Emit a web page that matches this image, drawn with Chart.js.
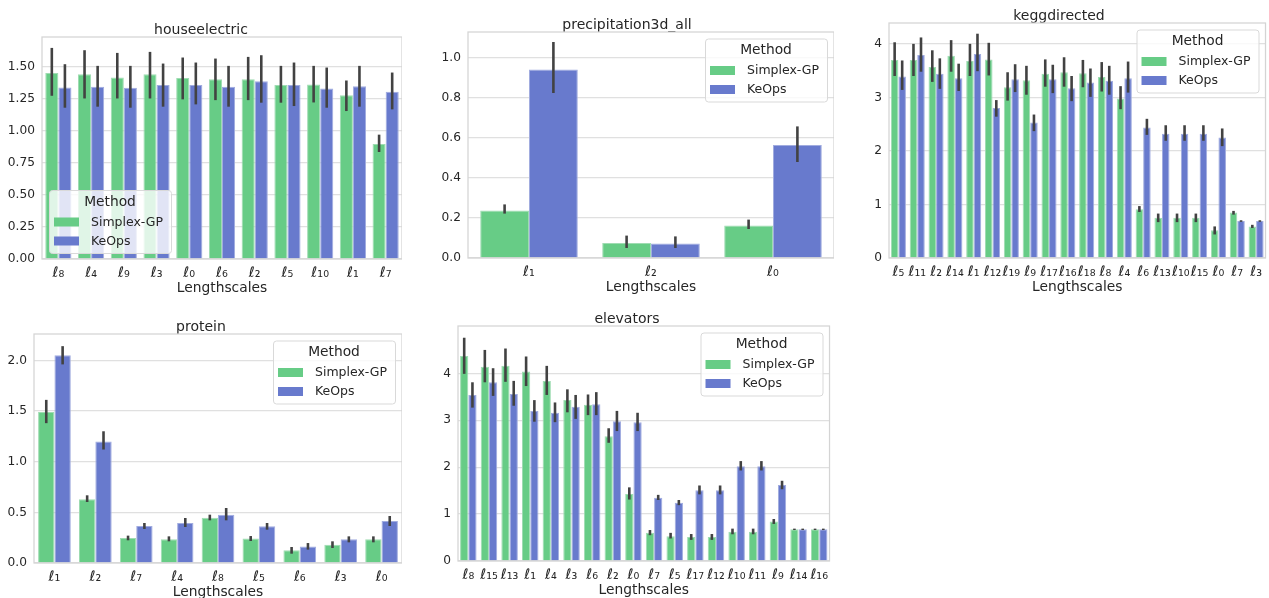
<!DOCTYPE html>
<html>
<head>
<meta charset="utf-8">
<script src="https://cdn.jsdelivr.net/npm/chart.js@4"></script>
<style>
html,body{margin:0;padding:0;background:#fff;width:1269px;height:598px;overflow:hidden;position:relative;}
canvas{position:absolute;}
</style>
</head>
<body>
<canvas id="c1"></canvas>
<canvas id="c2"></canvas>
<canvas id="c3"></canvas>
<canvas id="c4"></canvas>
<canvas id="c5"></canvas>
<script>
// ---------- data ----------
const seriesNames = ['Simplex-GP', 'KeOps'];
const legendTitle = 'Method';
const xAxisTitle = 'Lengthscales';

// houseelectric
const houseTitle = 'houseelectric';
const houseCats = ['ℓ₈','ℓ₄','ℓ₉','ℓ₃','ℓ₀','ℓ₆','ℓ₂','ℓ₅','ℓ₁₀','ℓ₁','ℓ₇'];
const houseSimplex   = [1.450,1.440,1.415,1.440,1.410,1.400,1.400,1.355,1.360,1.277,0.896];
const houseSimplexLo = [1.272,1.251,1.251,1.251,1.244,1.238,1.238,1.218,1.220,1.153,0.834];
const houseSimplexHi = [1.645,1.627,1.606,1.614,1.570,1.562,1.575,1.505,1.505,1.391,0.969];
const houseKeOps     = [1.337,1.342,1.334,1.355,1.355,1.342,1.386,1.355,1.329,1.347,1.303];
const houseKeOpsLo   = [1.179,1.187,1.179,1.187,1.205,1.187,1.218,1.192,1.179,1.187,1.166];
const houseKeOpsHi   = [1.518,1.505,1.505,1.523,1.531,1.505,1.588,1.531,1.492,1.505,1.453];
const houseTicks = [0,0.25,0.5,0.75,1,1.25,1.5];

// precipitation3d_all
const precipTitle = 'precipitation3d_all';
const precipCats = ['ℓ₁','ℓ₂','ℓ₀'];
const precipSimplex   = [0.237,0.075,0.163];
const precipSimplexLo = [0.222,0.050,0.145];
const precipSimplexHi = [0.268,0.112,0.192];
const precipKeOps     = [0.942,0.073,0.565];
const precipKeOpsLo   = [0.825,0.050,0.480];
const precipKeOpsHi   = [1.080,0.108,0.658];
const precipTicks = [0,0.2,0.4,0.6,0.8,1.0];

// keggdirected
const keggTitle = 'keggdirected';
const keggCats = ['ℓ₅','ℓ₁₁','ℓ₂','ℓ₁₄','ℓ₁','ℓ₁₂','ℓ₁₉','ℓ₉','ℓ₁₇','ℓ₁₆','ℓ₁₈','ℓ₈','ℓ₄','ℓ₆','ℓ₁₃','ℓ₁₀','ℓ₁₅','ℓ₀','ℓ₇','ℓ₃'];
const keggSimplex   = [3.70,3.70,3.57,3.78,3.68,3.71,3.19,3.32,3.44,3.47,3.45,3.38,2.98,0.91,0.75,0.75,0.75,0.52,0.85,0.59];
const keggSimplexLo = [3.40,3.40,3.29,3.48,3.40,3.41,2.94,3.05,3.20,3.20,3.19,3.11,2.78,0.86,0.67,0.67,0.67,0.44,0.81,0.56];
const keggSimplexHi = [4.03,4.00,3.88,4.07,4.00,4.02,3.47,3.59,3.71,3.75,3.70,3.66,3.21,0.97,0.83,0.83,0.83,0.59,0.88,0.62];
const keggKeOps     = [3.39,3.79,3.44,3.36,3.81,2.80,3.34,2.53,3.34,3.17,3.28,3.31,3.36,2.44,2.32,2.32,2.32,2.25,0.69,0.69];
const keggKeOpsLo   = [3.14,3.48,3.16,3.12,3.49,2.64,3.10,2.37,3.08,2.93,3.01,3.05,3.09,2.30,2.19,2.19,2.19,2.09,0.675,0.675];
const keggKeOpsHi   = [3.69,4.12,3.73,3.63,4.19,2.95,3.62,2.68,3.61,3.40,3.54,3.59,3.67,2.60,2.48,2.48,2.48,2.42,0.705,0.705];
const keggTicks = [0,1,2,3,4];

// protein
const proteinTitle = 'protein';
const proteinCats = ['ℓ₁','ℓ₂','ℓ₇','ℓ₄','ℓ₈','ℓ₅','ℓ₆','ℓ₃','ℓ₀'];
const proteinSimplex   = [1.490,0.628,0.247,0.234,0.447,0.243,0.125,0.181,0.234];
const proteinSimplexLo = [1.380,0.602,0.224,0.214,0.421,0.217,0.092,0.148,0.204];
const proteinSimplexHi = [1.610,0.668,0.270,0.263,0.477,0.266,0.158,0.214,0.263];
const proteinKeOps     = [2.050,1.200,0.365,0.395,0.477,0.362,0.164,0.234,0.414];
const proteinKeOpsLo   = [1.960,1.120,0.336,0.355,0.421,0.329,0.132,0.204,0.365];
const proteinKeOpsHi   = [2.140,1.300,0.395,0.444,0.543,0.395,0.197,0.263,0.464];
const proteinTicks = [0,0.5,1,1.5,2];

// elevators
const elevTitle = 'elevators';
const elevCats = ['ℓ₈','ℓ₁₅','ℓ₁₃','ℓ₁','ℓ₄','ℓ₃','ℓ₆','ℓ₂','ℓ₀','ℓ₇','ℓ₅','ℓ₁₇','ℓ₁₂','ℓ₁₀','ℓ₁₁','ℓ₉','ℓ₁₄','ℓ₁₆'];
const elevSimplex   = [4.37,4.14,4.16,4.04,3.84,3.43,3.33,2.66,1.43,0.60,0.53,0.51,0.51,0.625,0.625,0.84,0.675,0.675];
const elevSimplexLo = [3.99,3.81,3.82,3.73,3.54,3.17,3.11,2.52,1.31,0.55,0.48,0.45,0.45,0.57,0.57,0.79,0.66,0.66];
const elevSimplexHi = [4.76,4.50,4.53,4.36,4.16,3.66,3.55,2.83,1.57,0.66,0.60,0.575,0.575,0.69,0.69,0.895,0.69,0.69];
const elevKeOps     = [3.54,3.81,3.56,3.20,3.16,3.29,3.34,2.98,2.96,1.35,1.24,1.51,1.51,2.02,2.02,1.62,0.675,0.675];
const elevKeOpsLo   = [3.27,3.52,3.31,2.97,2.96,3.03,3.11,2.77,2.77,1.30,1.19,1.42,1.42,1.93,1.93,1.53,0.66,0.66];
const elevKeOpsHi   = [3.81,4.11,3.84,3.43,3.38,3.54,3.60,3.20,3.16,1.41,1.30,1.61,1.61,2.13,2.13,1.71,0.69,0.69];
const elevTicks = [0,1,2,3,4];

// ---------- styling ----------
const GREEN = '#67cc86', GREEN_EDGE = '#9fdcb2';
const BLUE = '#687acd', BLUE_EDGE = '#a1acdf';
const TEXT = '#262626';
const FONT = '"DejaVu Sans", sans-serif';
Chart.defaults.font.family = FONT;
Chart.defaults.color = TEXT;

const errorBars = {
  id: 'errorBars',
  afterDatasetsDraw(chart) {
    const {ctx, chartArea: a} = chart;
    const y = chart.scales.y;
    ctx.save();
    ctx.strokeStyle = '#d4d4d4';
    ctx.lineWidth = 1.25;
    ctx.strokeRect(a.left, a.top, a.right - a.left, a.bottom - a.top);
    ctx.strokeStyle = '#424242';
    ctx.lineWidth = 2.6;
    chart.data.datasets.forEach((ds, i) => {
      const meta = chart.getDatasetMeta(i);
      meta.data.forEach((bar, j) => {
        ctx.beginPath();
        ctx.moveTo(bar.x, y.getPixelForValue(ds.errLo[j]));
        ctx.lineTo(bar.x, y.getPixelForValue(ds.errHi[j]));
        ctx.stroke();
      });
    });
    ctx.restore();
  }
};

const boxLegend = {
  id: 'boxLegend',
  afterDraw(chart, args, opts) {
    const {ctx, chartArea: a} = chart;
    const items = chart.data.datasets.map(d => ({text: d.label, color: d.backgroundColor}));
    ctx.save();
    ctx.font = '12.5px ' + FONT;
    const tw = Math.max(...items.map(it => ctx.measureText(it.text).width));
    const w = Math.round(42 + tw + 8), h = 63;
    const x = opts.corner === 'bl' ? a.left + 7 : a.right - 7 - w;
    const y0 = opts.corner === 'bl' ? a.bottom - 6 - h : a.top + 6.5;
    ctx.beginPath();
    ctx.roundRect(x + 0.5, y0 + 0.5, w, h, 3);
    ctx.fillStyle = 'rgba(255,255,255,0.8)';
    ctx.fill();
    ctx.strokeStyle = '#d9d9d9';
    ctx.lineWidth = 1;
    ctx.stroke();
    ctx.fillStyle = TEXT;
    ctx.textBaseline = 'middle';
    ctx.textAlign = 'center';
    ctx.font = '13.8px ' + FONT;
    ctx.fillText(legendTitle, x + w / 2, y0 + 12);
    ctx.textAlign = 'left';
    ctx.font = '12.5px ' + FONT;
    items.forEach((it, i) => {
      const cy = y0 + 32 + 19 * i;
      ctx.fillStyle = it.color;
      ctx.fillRect(x + 5, cy - 4.5, 25, 9);
      ctx.fillStyle = TEXT;
      ctx.fillText(it.text, x + 42, cy + 0.5);
    });
    ctx.restore();
  }
};

function makePanel(id, pos, title, cats, s, sLo, sHi, k, kLo, kHi, ticks, dec, ymax, corner) {
  const cv = document.getElementById(id);
  cv.width = pos.w; cv.height = pos.h;
  cv.style.left = pos.x + 'px'; cv.style.top = pos.y + 'px';
  new Chart(cv, {
    type: 'bar',
    data: {
      labels: cats,
      datasets: [
        {label: seriesNames[0], data: s, errLo: sLo, errHi: sHi, backgroundColor: GREEN, borderColor: GREEN_EDGE, borderWidth: 1},
        {label: seriesNames[1], data: k, errLo: kLo, errHi: kHi, backgroundColor: BLUE, borderColor: BLUE_EDGE, borderWidth: 1}
      ]
    },
    options: {
      responsive: false,
      animation: false,
      devicePixelRatio: 1,
      layout: {padding: 0},
      datasets: {bar: {categoryPercentage: 0.8, barPercentage: 1.0}},
      plugins: {
        legend: {display: false},
        tooltip: {enabled: false},
        title: {display: true, text: title, color: TEXT, font: {size: 14, weight: 'normal', lineHeight: 1.0}, padding: {top: 7, bottom: 0}},
        boxLegend: {corner: corner}
      },
      scales: {
        x: {
          afterFit: sc => { sc.height = 38; },
          grid: {display: false, drawTicks: false},
          border: {display: false},
          ticks: {font: {size: 14.5}, color: TEXT, padding: 6, maxRotation: 0, minRotation: 0, autoSkip: false},
          title: {display: true, text: xAxisTitle, color: TEXT, font: {size: 13.8}, padding: 0}
        },
        y: {
          min: 0, max: ymax,
          afterFit: sc => { sc.width = pos.yW; },
          afterBuildTicks: sc => { sc.ticks = ticks.map(v => ({value: v})); },
          grid: {color: '#e0e0e0', lineWidth: 1.25, drawTicks: false},
          border: {display: false},
          ticks: {font: {size: 12.2}, color: TEXT, padding: 7, callback: v => Number(v).toFixed(dec)}
        }
      }
    },
    plugins: [errorBars, boxLegend]
  });
}

makePanel('c1', {x: 0, y: 16, w: 402, h: 281, yW: 42}, houseTitle, houseCats,
  houseSimplex, houseSimplexLo, houseSimplexHi, houseKeOps, houseKeOpsLo, houseKeOpsHi, houseTicks, 2, 1.73, 'bl');
makePanel('c2', {x: 420, y: 11, w: 414, h: 285, yW: 48}, precipTitle, precipCats,
  precipSimplex, precipSimplexLo, precipSimplexHi, precipKeOps, precipKeOpsLo, precipKeOpsHi, precipTicks, 1, 1.13, 'tr');
makePanel('c3', {x: 850, y: 2, w: 418, h: 294, yW: 39}, keggTitle, keggCats,
  keggSimplex, keggSimplexLo, keggSimplexHi, keggKeOps, keggKeOpsLo, keggKeOpsHi, keggTicks, 0, 4.39, 'tr');
makePanel('c4', {x: 0, y: 313, w: 402, h: 288, yW: 34}, proteinTitle, proteinCats,
  proteinSimplex, proteinSimplexLo, proteinSimplexHi, proteinKeOps, proteinKeOpsLo, proteinKeOpsHi, proteinTicks, 1, 2.26, 'tr');
makePanel('c5', {x: 420, y: 305, w: 414, h: 294, yW: 38}, elevTitle, elevCats,
  elevSimplex, elevSimplexLo, elevSimplexHi, elevKeOps, elevKeOpsLo, elevKeOpsHi, elevTicks, 0, 5.01, 'tr');
</script>
</body>
</html>
